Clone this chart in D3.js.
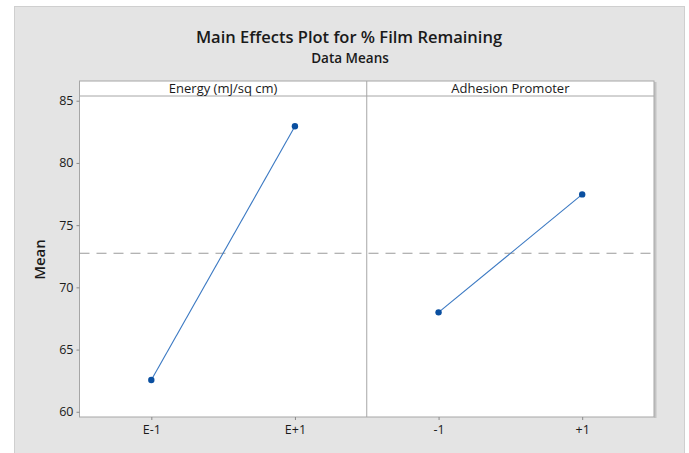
<!DOCTYPE html>
<html>
<head>
<meta charset="utf-8">
<script src="https://cdn.jsdelivr.net/npm/d3@7"></script>
<style>
  html, body { margin: 0; padding: 0; background: #ffffff; }
  svg { display: block; }
  text { font-family: "Open Sans", "Noto Sans", sans-serif; fill: #1a1a1a; }
</style>
</head>
<body>
<svg id="chart" width="689" height="453"></svg>
<script>
// Main effects: data means of % film remaining at each factor level
const factors = ["Energy (mJ/sq cm)", "Adhesion Promoter"];
const energyLevels = ["E-1", "E+1"];
const energyMeans = [62.55, 82.95];
const adhesionLevels = ["-1", "+1"];
const adhesionMeans = [67.99, 77.47];
const grandMean = 72.74;
const yTicks = [60, 65, 70, 75, 80, 85];

const panels = [
  { name: factors[0], levels: energyLevels, means: energyMeans },
  { name: factors[1], levels: adhesionLevels, means: adhesionMeans }
];

const svg = d3.select("#chart");

// outer grey canvas
svg.append("rect").attr("x", 14.5).attr("y", 6.5).attr("width", 670).attr("height", 452)
  .attr("fill", "#e4e4e4").attr("stroke", "#cfcfcf").attr("stroke-width", 1);

const frame = { left: 79.5, right: 654, top: 81, stripBottom: 96, bottom: 417 };
const panelW = (frame.right - frame.left) / panels.length;

const y = d3.scaleLinear().domain([59.58, 85.38]).range([frame.bottom, frame.stripBottom]);

// titles
svg.append("text").attr("x", 349).attr("y", 42.5).attr("text-anchor", "middle")
  .attr("font-size", 16.5).attr("font-weight", 600).text("Main Effects Plot for % Film Remaining");
svg.append("text").attr("x", 350).attr("y", 63).attr("text-anchor", "middle")
  .attr("font-size", 13.5).attr("font-weight", 600).text("Data Means");

// drop shadow on the right side of the frame
svg.append("rect").attr("x", frame.right).attr("y", frame.top + 1)
  .attr("width", 2.5).attr("height", frame.bottom - frame.top).attr("fill", "#c4c4c4");

// frame background
svg.append("rect").attr("x", frame.left).attr("y", frame.top)
  .attr("width", frame.right - frame.left).attr("height", frame.bottom - frame.top)
  .attr("fill", "#ffffff").attr("stroke", "#a6a6a6").attr("stroke-width", 1);

// strip divider
svg.append("line").attr("x1", frame.left).attr("x2", frame.right)
  .attr("y1", frame.stripBottom).attr("y2", frame.stripBottom)
  .attr("stroke", "#a6a6a6").attr("stroke-width", 1);

// y axis
const yAxis = d3.axisLeft(y).tickValues(yTicks).tickSize(3).tickPadding(3);
const gy = svg.append("g").attr("transform", `translate(${frame.left},0)`).call(yAxis);
gy.select(".domain").remove();
gy.selectAll(".tick line").attr("stroke", "#8a8a8a");
gy.selectAll(".tick text").attr("font-size", 12.5).attr("fill", "#222")
  .attr("font-family", "'Open Sans', sans-serif");

svg.append("text").attr("transform", `translate(45,${(frame.stripBottom + frame.bottom) / 2 + 3}) rotate(-90)`)
  .attr("text-anchor", "middle").attr("font-size", 15).attr("font-weight", 600).text("Mean");

// grand mean reference line
svg.append("line").attr("x1", frame.left).attr("x2", frame.right)
  .attr("y1", y(grandMean)).attr("y2", y(grandMean))
  .attr("stroke", "#9a9a9a").attr("stroke-width", 1).attr("stroke-dasharray", "10,7");

panels.forEach((p, i) => {
  const x0 = frame.left + i * panelW;
  const x = d3.scalePoint().domain(p.levels).range([x0, x0 + panelW]).padding(0.5);

  if (i > 0) {
    svg.append("line").attr("x1", x0).attr("x2", x0)
      .attr("y1", frame.top).attr("y2", frame.bottom)
      .attr("stroke", "#a6a6a6").attr("stroke-width", 1);
  }

  svg.append("text").attr("x", x0 + panelW / 2).attr("y", 92.5).attr("text-anchor", "middle")
    .attr("font-size", 13).text(p.name);

  const xAxis = d3.axisBottom(x).tickSize(3).tickPadding(5);
  const gx = svg.append("g").attr("transform", `translate(0,${frame.bottom})`).call(xAxis);
  gx.select(".domain").remove();
  gx.selectAll(".tick line").attr("stroke", "#8a8a8a");
  gx.selectAll(".tick text").attr("font-size", 12.5).attr("fill", "#222")
    .attr("font-family", "'Open Sans', sans-serif");

  const pts = p.levels.map((l, j) => ({ level: l, mean: p.means[j] }));
  svg.append("path").datum(pts)
    .attr("d", d3.line().x(d => x(d.level)).y(d => y(d.mean)))
    .attr("fill", "none").attr("stroke", "#3a78c2").attr("stroke-width", 1.1);
  svg.append("g").selectAll("circle").data(pts).join("circle")
    .attr("cx", d => x(d.level)).attr("cy", d => y(d.mean)).attr("r", 3.2)
    .attr("fill", "#0a4fa0");
});
</script>
</body>
</html>
